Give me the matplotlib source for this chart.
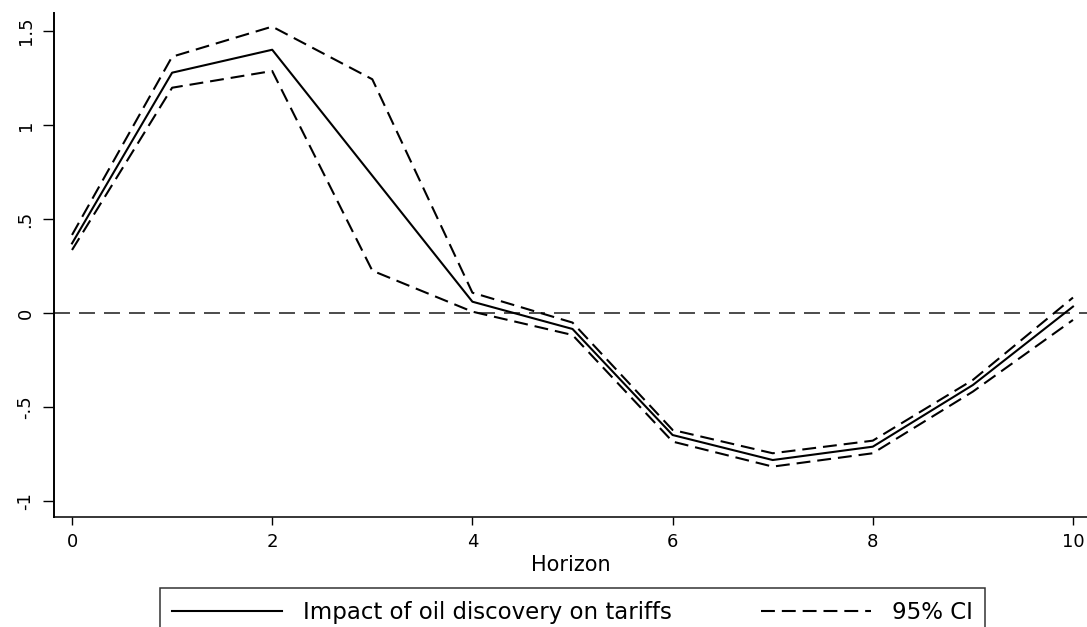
import numpy as np
import matplotlib.pyplot as plt
from matplotlib.ticker import FuncFormatter

plt.rcParams['font.family'] = ['DejaVu Sans']
plt.rcParams['lines.scale_dashes'] = False

horizon = np.arange(0, 11)
impact = [0.37, 1.278, 1.40, 0.73, 0.06, -0.085, -0.649, -0.782, -0.711, -0.383, 0.034]
ci_upper = [0.415, 1.363, 1.523, 1.243, 0.108, -0.051, -0.622, -0.746, -0.679, -0.356, 0.082]
ci_lower = [0.335, 1.198, 1.287, 0.225, 0.007, -0.117, -0.684, -0.817, -0.746, -0.418, -0.037]

xticks = [0, 2, 4, 6, 8, 10]
yticks = [-1, -0.5, 0, 0.5, 1, 1.5]


def stata_fmt(v, pos):
    s = '%g' % v
    if v != 0 and abs(v) < 1:
        s = s.replace('0.', '.')
    return s


fig = plt.figure(figsize=(10.87, 6.27), dpi=100)
ax = fig.add_axes([54 / 1087, 1 - 517 / 627, 1 - 54 / 1087, (517 - 12.7) / 627])

ax.axhline(0, color='#1a1a1a', lw=1.1, dashes=(11.5, 6.5))
l1, = ax.plot(horizon, impact, color='black', lw=1.5)
l2, = ax.plot(horizon, ci_upper, color='black', lw=1.5, dashes=(10, 5))
ax.plot(horizon, ci_lower, color='black', lw=1.5, dashes=(10, 5))

ax.set_xlim(-0.18, 10.14)
ax.set_ylim(-1.085, 1.597)
ax.set_xticks(xticks)
ax.set_yticks(yticks)
ax.yaxis.set_major_formatter(FuncFormatter(stata_fmt))

for s in ['top', 'right']:
    ax.spines[s].set_visible(False)
ax.spines['left'].set_linewidth(1.4)
ax.spines['bottom'].set_linewidth(1.1)

ax.tick_params(axis='x', direction='out', length=5.5, width=1.0, labelsize=13, pad=6)
ax.tick_params(axis='y', direction='out', length=8, width=1.0, labelsize=13, pad=6)
for label in ax.get_yticklabels():
    label.set_rotation(90)
    label.set_va('center')

ax.set_xlabel("Horizon", size=15, labelpad=3)

leg = fig.legend([l1, l2], ["Impact of oil discovery on tariffs", "95% CI"],
                 loc='upper center', bbox_to_anchor=(0.5267, 0.0622), ncol=2,
                 fontsize=16.5, frameon=True, fancybox=False, edgecolor='black',
                 handlelength=4.8, handletextpad=0.9, columnspacing=3.9,
                 borderpad=0.55, borderaxespad=0)
leg.get_frame().set_linewidth(1.1)

fig.savefig('out.png', dpi=100)
